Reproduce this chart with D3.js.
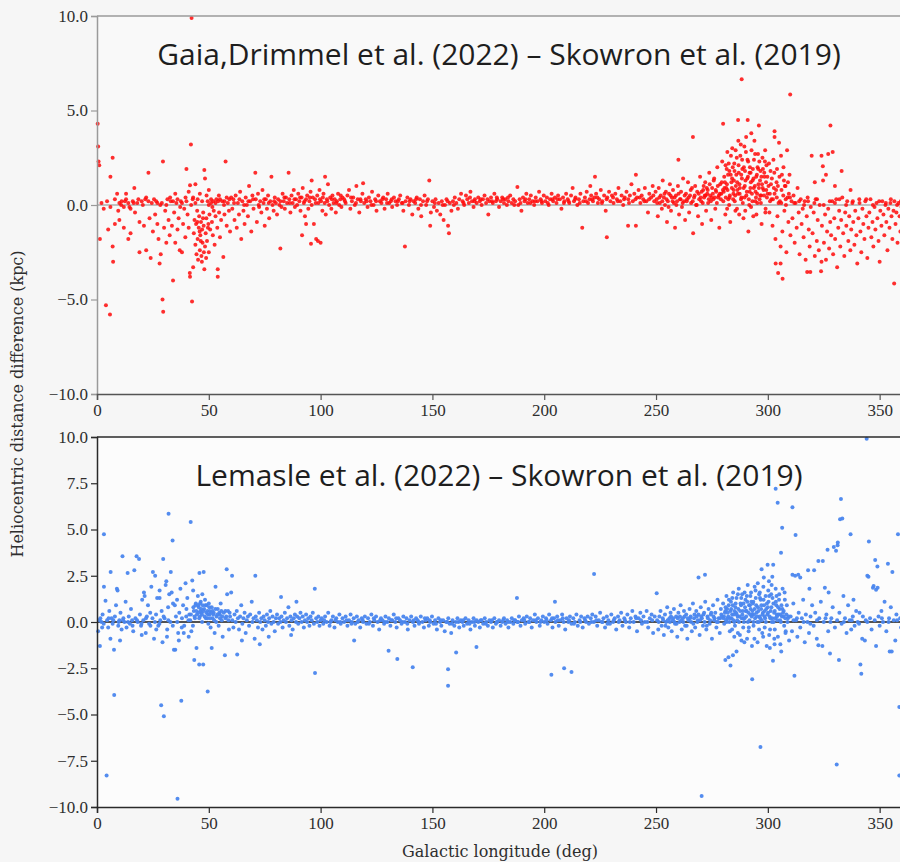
<!DOCTYPE html>
<html>
<head>
<meta charset="utf-8">
<script src="https://cdn.jsdelivr.net/npm/d3@7/dist/d3.min.js"></script>
<style>
  html, body { margin: 0; padding: 0; background: #f6f6f6; }
  svg { display: block; }
  .tick text { font-family: "Liberation Serif", "DejaVu Serif", serif; font-size: 17px; fill: #2e2e2e; }
</style>
</head>
<body>
<svg id="chart" width="900" height="862"></svg>
<script>
// ---------------- DATA ----------------
const titles = ["Gaia,Drimmel et al. (2022) \u2013 Skowron et al. (2019)", "Lemasle et al. (2022) \u2013 Skowron et al. (2019)"];
const xLabel = "Galactic longitude (deg)";
const yLabel = "Heliocentric distance difference (kpc)";
const xTicks = [0, 50, 100, 150, 200, 250, 300, 350];
const yTicksTop = [10, 5, 0, -5, -10];
const yTicksBottom = [10, 7.5, 5, 2.5, 0, -2.5, -5, -7.5, -10];

// Gaia/Drimmel - Skowron : [longitude (deg), difference (kpc)]
const gaia0to60 = [[0.3,4.3],[0.5,3.1],[0.7,2.3],[1,2.1],[1.3,-1.8],[4,-5.3],[5.8,-5.8],[7,2.5],[5,-1.3],[7,-2.2],[7.2,-3.0],[6,1.5],[9,0.6],[2,0.1],[3,-0.2],[4.5,0.2],[6,-0.1],[8,0.3],[9.5,-0.3],[10,0.1],[11,0.2],[12,-0.1],[13,0.3],[14,0.1],[15,-0.2],[16,0.2],[16.7,0.9],[17,-0.4],[18,0.1],[19,-0.9],[19,-2.5],[20,0.2],[21,-1.1],[22,-2.4],[22,0.4],[23,1.7],[23.5,-0.7],[24,-2.8],[24.5,0.1],[25,-1.4],[26,-0.5],[26.5,0.2],[27,-1.0],[27.5,-1.8],[28,-3.1],[28.5,-2.6],[29,0.1],[29.3,-5.0],[29.5,2.3],[29.6,-5.65],[30,-1.2],[30.5,-0.3],[31,-2.0],[31.5,0.3],[32,-0.8],[32.5,-1.6],[33,0.2],[33.5,-1.1],[34,-4.0],[34.5,-0.4],[35,-2.0],[35.5,0.1],[36,-1.3],[36.5,-0.7],[37,-2.4],[37.5,0.2],[38,-2.5],[38.5,-1.0],[39,-0.2],[39.5,-1.7],[40,1.9],[40.5,-0.5],[41,-1.2],[41.5,-3.6],[41.6,-3.8],[41.6,1.05],[42,3.2],[42.3,9.9],[42.5,-5.1],[42.8,0.3],[43,-3.3],[43.3,-1.5],[43.6,-0.8],[44,-2.1],[44.3,-1.0],[44.5,-2.6],[44.8,-0.3],[45,-1.8],[45.2,-2.9],[45.5,-1.2],[45.7,-0.6],[46,-2.4],[46.2,-1.6],[46.5,-0.9],[46.7,-2.7],[47,-1.3],[47.2,-2.0],[47.5,-0.4],[47.7,-1.1],[48,-3.4],[48,1.85],[48.3,1.4],[48.3,-2.2],[48.6,-1.5],[48.9,-0.7],[49.2,-1.9],[49.5,0.2],[49.8,-1.0],[50,-2.5],[50.3,-0.5],[50.6,-1.3],[51,0.1],[51.4,-0.9],[51.8,-1.6],[52.2,-0.3],[52.6,-2.1],[53,-0.6],[53.4,0.3],[53.8,-1.2],[54,-3.4],[54,-3.8],[54.5,0.5],[54.6,-0.4],[55,-1.7],[55.5,-0.8],[56,0.2],[56.5,-2.75],[57,-0.5],[57.5,2.3],[58,-1.1],[58.5,0.1],[59,-0.3],[59.5,-1.4],[60,0.4],
[12.5,0.2],[14.5,-0.1],[18.5,0.3],[20.5,0.0],[23,0.2],[25.5,0.3],[27,0.1],[31,0.0],[34,0.2],[36,0.3],[38,0.1],[40,0.2],[43,0.4],[45,0.3],[47,0.2],[49,0.5],[51,0.3],[53,0.1],[55,0.3],[57,0.2],[58,0.4],[46,0.6],[44,0.1],[50,0.0],[52,0.2],[41,0.7],[44,1.1],[50,0.8],[35,0.6],[13,0.6],[10,-0.8],[15,-1.5],[14,-1.8],[8,-1.0],[12,-1.2],[46.4,-1.9],[47.8,-2.5],[45.9,-1.4],[49.6,-1.2],[44.9,-0.9],[47.4,-0.7],[48.8,-2.8],[46.9,-3.0],
[10.8,0.0],[16.4,0.1],[21.6,0.3],[28.3,0.0],[32.7,0.4],[37.2,-0.1],[39.6,0.4],[42.1,0.0],[51.6,-0.1],[54.2,0.2],[56.8,0.0],[59.2,0.3]];

const gaia60to110 = [[60.5,-0.2],[61,0.3],[61.5,-0.8],[62,0.5],[62.5,-1.2],[63,0.1],[63.5,-0.5],[64,0.7],[64.5,-1.8],[65,0.2],[65.5,-0.3],[66,-1.0],[66.5,0.4],[67,0.0],[67.5,-0.6],[68,1.0],[68.5,0.2],[69,-1.4],[69.5,0.5],[70,-0.2],[70.8,1.7],[71,0.3],[71.5,-0.9],[72,0.6],[72.5,-0.1],[73,0.2],[73.5,-0.4],[74,0.8],[74.5,0.1],[75,-1.1],[75.5,0.3],[76,-0.2],[76.5,0.5],[77,-0.7],[77.5,0.2],[78,1.5],[78.5,0.0],[79,-0.3],[79.5,0.4],[80,0.1],[80.5,-0.5],[81,0.3],[82,-2.3],[82,0.2],[82.5,-0.1],[83,0.6],[83.5,0.2],[84,-0.2],[84.5,0.4],[85,0.1],[85.7,1.7],[86,0.3],[86.5,-0.4],[87,0.5],[87.5,0.1],[88,0.8],[88.5,-0.1],[89,0.3],[89.5,0.0],[90,0.6],[90.5,0.2],[91,-0.3],[91.5,0.4],[91.7,-1.6],[92,0.9],[92.5,0.1],[93,-0.6],[93.5,-1.0],[93.5,0.3],[94,0.5],[94.5,-0.2],[95,0.2],[95.5,0.7],[95.7,-2.05],[96,1.3],[96,0.0],[96.5,0.4],[97,-1.0],[97.5,0.3],[98,-1.8],[98.5,0.5],[98.8,-1.9],[99,0.1],[99.5,0.8],[100,-2.0],[100.2,0.2],[100.8,-0.3],[101.3,0.6],[101.8,0.1],[102,1.5],[102.3,-0.5],[102.8,0.3],[103.3,1.1],[103.8,0.0],[104.3,0.4],[104.8,-0.2],[105.3,0.5],[105.8,0.1],[106.3,0.3],[106.8,-0.4],[107.3,0.2],[107.8,0.6],[108.3,0.0],[108.8,0.3],[109.3,-0.1],[109.8,0.4],
[61.3,0.1],[63.7,0.3],[65.8,0.0],[67.7,0.2],[69.8,0.3],[72.3,0.0],[74.8,0.3],[76.8,0.1],[79.2,0.2],[81.6,0.0],[83.8,0.4],[86.2,0.1],[88.3,0.3],[90.8,0.4],[92.8,0.2],[95.2,0.4],[97.8,0.1],[99.7,0.3],[101,0.4],[103,0.2],[105,0.3],[107,0.1],[109,0.5]];

const gaia110to250 = [[110.5,0.3],[111.2,0.1],[112,0.5],[112.7,0.8],[113.3,-0.2],[114,0.2],[114.6,0.4],[115.3,0.0],[116,1.0],[116.6,0.3],[117.3,-0.4],[118,0.2],[118.7,0.6],[119,1.15],[119.5,0.1],[120.2,0.3],[121,-0.1],[121.6,0.4],[122.3,0.2],[123,0.7],[123.7,0.0],[124.4,0.3],[125,-0.3],[125.8,0.5],[126.5,0.2],[127.2,0.1],[128,0.4],[128.6,-0.2],[129.3,0.3],[130,0.6],[130.7,0.1],[131.4,0.2],[132,-0.1],[132.8,0.4],[133.5,0.2],[134.2,0.0],[135,0.3],[135.6,0.5],[136.3,0.1],[137,-0.3],[137.7,-2.2],[138,0.2],[138.8,0.4],[139.5,0.0],[140.2,0.3],[141,-0.5],[141.6,0.2],[142.3,0.1],[143,0.4],[143.7,-0.2],[144.4,0.3],[145,-0.6],[145.8,0.2],[146.5,0.5],[147.2,0.0],[148,0.3],[148.6,1.3],[149,-1.1],[149.3,-0.4],[150,0.2],[150.7,-0.1],[151.4,0.3],[152,-0.3],[152.8,0.1],[153.5,-0.5],[154.2,0.2],[155,-0.8],[155.6,0.0],[156.3,0.3],[157,-1.1],[157.4,-1.5],[157.8,0.1],[158.5,-0.3],[159.2,0.2],[160,0.4],[160.7,0.1],[161.4,-0.2],[162,0.3],[162.8,0.6],[163.5,0.2],[164.2,0.0],[165,0.5],[165.6,0.3],[166.3,0.1],[167,0.7],[167.7,0.2],[168.4,-0.1],[169,0.3],[169.8,0.1],[170.5,0.4],[171.2,0.2],[172,0.0],[172.6,0.3],[173.3,0.5],[174,0.1],[175,-0.5],[175.5,0.2],[176.2,0.4],[177,0.1],[177.7,0.6],[178.4,0.2],[179,0.3],[179.8,-0.1],[180.5,0.2],[181.2,0.4],[182,0.1],[182.6,0.3],[183.3,0.0],[184,0.2],[184.8,0.5],[185.5,0.1],[186.2,0.3],[187,0.2],[188,0.95],[188.4,0.0],[189,0.3],[189.8,-0.3],[190.5,0.4],[191.2,0.2],[192,0.6],[192.6,0.1],[193.3,0.3],[194,0.5],[194.8,0.2],[195.5,0.0],[196.2,0.4],[197,0.2],[197.7,0.7],[198.4,0.3],[199,0.1],[199.8,0.5],[200.5,0.2],[201.2,0.4],[202,0.0],[202.6,0.3],[203.3,0.6],[204,0.2],[204.8,0.4],[205.5,0.1],[206.2,0.5],[207,0.3],[207.7,-0.2],[208.4,0.4],[209,0.2],[209.8,0.6],[210.5,0.3],[211.2,0.1],[212,0.5],[212.7,0.9],[213.3,0.2],[214,0.4],[214.8,0.0],[215.5,0.3],[216.2,0.6],[217,-1.2],[217.5,0.2],[218.2,0.4],[219,0.7],[219.6,0.1],[220.3,0.3],[220.6,1.0],[221,0.5],[221.8,0.2],[222.5,0.4],[222.7,1.5],[223.2,0.6],[224,0.1],[224.6,0.3],[225.3,0.8],[226,0.2],[226.8,0.5],[227.5,-0.3],[228,-1.7],[228.2,0.4],[229,0.7],[229.6,0.2],[230.3,0.5],[231,0.1],[231.8,0.6],[232.5,0.3],[233.2,0.9],[234,0.2],[234.6,0.5],[235.3,0.0],[236,0.4],[236.8,0.7],[237.5,-1.1],[237.6,0.3],[238.3,0.5],[239,1.1],[239.6,0.2],[240.3,0.6],[241,-1.1],[241,1.6],[241.5,0.4],[242.2,0.8],[243,0.1],[243.6,0.5],[244.3,0.3],[245,0.9],[245.7,0.2],[246.4,-0.4],[247,0.6],[247.8,0.4],[248.5,1.0],[249.2,0.2],[249.8,0.7],
[110.9,0.2],[113.6,0.4],[115.8,0.1],[117.8,0.3],[120.6,0.2],[122.7,0.0],[124.8,0.2],[127.6,0.3],[129.7,0.1],[131.8,0.3],[134.6,0.2],[136.7,0.1],[139.8,0.2],[142.7,0.3],[144.9,0.0],[147.6,0.2],[151.1,0.1],[154.6,0.0],[156.8,0.2],[159.6,0.0],[163.9,0.1],[166.8,0.4],[168.8,0.2],[171.6,0.3],[174.6,0.3],[176.7,0.2],[178.8,0.4],[181.6,0.3],[183.8,0.4],[186.6,0.0],[189.4,0.1],[191.6,0.3],[193.8,0.1],[195.9,0.2],[198.8,0.2],[201.6,0.1],[203.7,0.3],[205.9,0.3],[208.8,0.1],[210.9,0.2],[213.8,0.3],[215.9,0.1],[218.7,0.2],[221.5,0.3],[223.8,0.4],[225.8,0.1],[227.9,0.3],[230.8,0.4],[232.9,0.2],[235.7,0.3],[237.9,0.1],[240.8,0.3],[242.7,0.4],[244.8,0.2],[246.9,0.3],[248.8,0.5]];

const gaia250to300 = [[250.3,0.3],[250.8,-0.6],[251.2,0.9],[251.7,0.1],[252.1,0.5],[252.6,-0.2],[253,1.3],[253.5,0.4],[254,0.0],[254.4,0.7],[254.9,-0.9],[255.3,0.2],[255.8,0.6],[256.2,1.1],[256.7,-0.3],[257.1,0.4],[257.6,0.8],[258,0.1],[258.5,-1.2],[258.9,0.5],[259.4,0.2],[259.8,1.0],[260,2.4],[260.3,-0.5],[260.7,0.3],[261.2,0.7],[261.6,-0.1],[262.1,1.4],[262.5,0.2],[263,-0.8],[263.4,0.6],[263.9,0.3],[264.3,1.2],[264.8,-0.4],[265.2,0.5],[265.7,0.1],[266.1,0.9],[266.5,3.6],[266.6,-1.5],[267,0.4],[267.5,1.0],[267.9,0.0],[268.4,0.7],[268.8,-0.6],[269.3,0.3],[269.7,1.5],[270.2,0.2],[270.6,-1.0],[271.1,0.8],[271.5,0.4],[272,1.2],[272.4,-0.3],[272.9,0.6],[273.3,0.1],[273.8,1.7],[274.2,0.5],[274.7,-0.8],[275.1,0.9],[275.6,0.3],[276,1.4],[276.5,-0.2],[276.9,0.7],[277.4,2.0],[277.8,0.4],[278.3,-1.2],[278.7,1.1],[279.2,0.6],[279.6,2.3],[280,4.3],[280.1,0.2],[280.5,1.5],[281,-0.5],[281.4,0.9],[281.9,2.8],[282.3,0.3],[282.8,1.8],[283.2,-0.9],[283.7,1.2],[284.1,3.0],[284.6,0.6],[285,2.2],[285.5,-0.3],[285.9,1.6],[286.4,0.8],[286.7,4.5],[286.8,3.4],[287.3,1.1],[287.7,2.6],[288.2,0.4],[288.3,6.65],[288.6,1.9],[289.1,-0.7],[289.5,3.1],[290,1.3],[290.4,0.5],[290.9,2.4],[291,4.5],[291.3,-1.4],[291.8,1.7],[292.2,0.9],[292.7,2.9],[293.1,0.2],[293.6,1.4],[294,3.4],[294.5,0.7],[294.9,-0.5],[295.4,2.0],[295.8,1.1],[296,4.2],[296.3,0.3],[296.7,1.8],[297.2,-1.0],[297.6,2.5],[298.1,0.8],[298.5,1.5],[299,-0.2],[299.4,2.1],[299.9,0.6],
[280.3,0.7],[280.8,1.2],[281.2,0.4],[281.6,1.9],[282,0.8],[282.5,2.2],[283,0.5],[283.4,1.6],[283.9,0.9],[284.3,2.0],[284.8,1.3],[285.2,0.2],[285.7,1.0],[286.1,2.5],[286.6,0.6],[287,1.7],[287.5,0.9],[287.9,3.2],[288.4,1.4],[288.8,0.1],[289.3,2.0],[289.7,1.0],[290.2,2.8],[290.6,0.7],[291.1,1.5],[291.5,0.3],[292,2.0],[292.4,1.2],[292.9,0.6],[293.3,1.9],[293.8,2.4],[294.2,1.0],[294.7,0.4],[295.1,1.6],[295.6,2.7],[296,0.9],[296.5,1.3],[296.9,0.1],[297.4,1.1],[297.8,1.9],[298.3,0.5],[298.7,2.3],[299.2,1.2],[299.6,0.4],[284.5,0.3],[286.2,-0.2],[288,0.3],[289.9,-0.3],[291.7,0.0],[293.5,-0.6],[295.3,0.1],[297,0.5],[298.9,-0.4],[282.7,0.0],[281.8,-0.2],[285.4,0.5],[287.2,-0.5],[289.6,0.4],[292.5,-0.1],[294.4,0.2],
[250.5,0.1],[251.5,0.4],[252.8,0.2],[253.8,0.6],[254.7,0.3],[255.6,-0.1],[256.5,0.5],[257.4,0.2],[258.3,0.4],[259.1,0.0],[260.1,0.6],[261,0.3],[261.9,0.1],[262.8,0.5],[263.7,0.2],[264.6,0.4],[265.5,0.8],[266.4,0.2],[267.3,0.5],[268.2,0.0],[269.1,0.6],[270,0.4],[270.9,0.1],[271.8,0.5],[272.7,0.9],[273.6,0.3],[274.5,0.2],[275.4,0.6],[276.3,0.4],[277.2,0.1],[278.1,0.5],[279,0.3],[279.9,0.8],
[280.6,0.9],[281.1,2.1],[281.7,1.1],[282.2,1.6],[282.9,0.4],[283.5,2.6],[284,1.4],[284.7,0.8],[285.1,1.8],[285.6,2.9],[286.3,1.2],[286.9,2.1],[287.4,0.6],[288.1,1.6],[288.5,2.4],[289.2,0.9],[289.8,1.8],[290.3,3.6],[290.8,1.4],[291.2,2.3],[291.9,0.7],[292.3,1.7],[292.6,3.8],[293.2,1.3],[293.7,0.9],[294.3,2.7],[294.8,1.5],[295.2,0.6],[295.7,1.9],[296.2,2.3],[296.6,0.5],[297.1,1.5],[297.7,0.9],[298.4,1.7],[298.8,2.9],[299.3,0.8],[299.8,1.5],[270.4,0.7],[271.3,1.0],[272.2,0.5],[273.1,0.8],[274,1.1],[274.9,0.4],[275.8,1.3],[276.7,0.8],[277.6,1.0],[278.5,0.6],[279.4,1.2]];

const gaia300to360 = [[300.3,1.0],[300.7,-0.4],[301.2,1.8],[301.6,0.3],[302.1,-1.1],[302.5,2.4],[303,3.9],[303,3.6],[303,0.6],[303.4,-1.8],[303.5,-3.1],[303.9,1.2],[304.3,-0.6],[304.6,-3.6],[304.8,0.1],[305,3.3],[305.2,1.5],[305.7,-3.1],[305.7,-2.2],[306.1,0.8],[306.5,-1.4],[306.6,-3.9],[307,2.0],[307.4,-0.3],[307.9,1.0],[308.3,-2.5],[308.8,0.4],[309.2,-0.9],[309.7,1.6],[310,5.85],[310.1,-1.6],[310.6,0.2],[311,-0.7],[311.5,0.5],[312,-2.0],[312.4,0.1],[312.9,-1.2],[313.3,0.9],[313.8,-0.4],[314.2,-2.6],[314.7,0.3],[315.1,-1.0],[315.6,-0.2],[316,-1.7],[316.5,0.2],[316.9,-2.9],[317.4,-0.6],[317.6,-3.55],[317.8,0.4],[318.3,-1.3],[318.7,-2.2],[319,-3.55],[319.2,-0.1],[319.6,2.6],[320,-1.5],[320.5,-0.4],[321,-2.7],[321.4,0.3],[321.9,-1.9],[322.3,-0.8],[322.8,-2.4],[323.2,0.0],[323.8,-3.5],[324,2.6],[324,-3.0],[324.2,-1.1],[324.6,2.05],[324.7,1.3],[325.1,-2.0],[325.6,-0.5],[326,-2.9],[326.5,-1.4],[327,2.7],[327,-0.2],[327.4,-2.3],[327.9,-0.9],[328,4.2],[328.3,-1.6],[328.8,0.2],[329,2.8],[329.2,-2.6],[329.7,-0.7],[330.1,-1.8],[330.6,0.3],[331,-3.3],[331.5,-1.2],[331.9,-0.3],[332.4,-2.2],[332.8,-0.8],[333.3,0.4],[333.7,-1.5],[334.2,-2.7],[334.6,-0.4],[335.1,-1.1],[335.5,0.2],[336,-1.9],[336.4,-0.6],[336.9,-2.4],[337.3,-1.3],[337.8,0.1],[338.2,-0.9],[338.7,-2.1],[339.1,-0.3],[339.6,-1.6],[340,-3.1],[340.5,-0.7],[340.9,0.3],[341.4,-1.4],[341.8,-2.5],[342.3,-0.2],[342.7,-1.0],[343.2,-1.8],[343.6,0.2],[344.1,-0.6],[344.5,-2.8],[345,-1.2],[345.4,-0.4],[345.9,0.3],[346.3,-1.7],[346.8,-0.9],[347.2,-2.2],[347.7,-0.1],[348.1,-1.3],[348.6,0.1],[349,-0.7],[349.5,-1.9],[350,-3.0],[350.3,-0.3],[350.8,-1.1],[351.2,0.2],[351.7,-0.5],[352.1,-1.6],[352.6,0.0],[353,-0.9],[353.5,-2.4],[353.9,-0.2],[354.4,-1.2],[354.8,0.1],[355.3,-0.6],[355.7,-1.8],[356.2,-0.3],[356.5,-4.15],[356.6,0.2],[357.1,-1.0],[357.5,-0.4],[358,-2.0],[358.4,0.1],[358.9,-0.6],[359.3,-1.4],[359.8,-0.1],
[301,0.2],[304,0.4],[306,0.1],[308,0.3],[311.8,0.1],[314,0.2],[316.2,0.0],[318,0.2],[320.8,0.1],[322,0.3],[325,0.0],[327.7,0.2],[330,0.1],[332,0.3],[335,0.0],[338,0.2],[341,0.1],[344,0.3],[347,0.0],[349.8,0.2],[352.8,0.1],[355,0.3],[357.8,0.0],[359.5,0.2],
[300.5,2.2],[301.8,1.4],[302.7,0.9],[304.1,1.9],[305.9,2.6],[307.2,1.3],[308.6,2.9],[309.4,0.6],[321,1.2],[326,1.6],[330,1.0],[333,1.8],[337,0.8],
[300.9,0.6],[301.4,1.1],[302.3,0.3],[302.9,1.7],[303.7,0.8],[304.5,1.0],[305.4,0.2],[306.3,1.6],[306.9,0.5],[307.6,1.0],[308.1,0.0],[309,1.2],[309.9,0.4]];

// Lemasle - Skowron : [longitude (deg), difference (kpc)]
const lem0to60 = [[0.5,-0.5],[1.3,-1.3],[1.5,0.2],[2,0.0],[2.5,0.4],[3.1,4.75],[3.1,1.9],[3.8,1.15],[4.3,-8.3],[4.5,0.1],[5,-0.3],[5.5,0.6],[6.1,2.7],[6.5,0.2],[7,-0.1],[7.6,-1.5],[7.7,-3.95],[8,0.3],[8.5,0.9],[8.9,1.8],[9.2,1.7],[9.5,-0.2],[10,0.1],[10.5,0.5],[11,-0.4],[11.4,3.55],[11.8,0.2],[12.3,0.0],[12.8,1.1],[13.2,-0.3],[13.7,2.65],[14.2,0.3],[14.7,-0.1],[15.2,0.7],[15.7,0.1],[16.2,-0.5],[16.7,2.8],[17.2,0.2],[17.7,3.55],[18.2,0.0],[18.8,3.4],[19.2,0.4],[19.7,-0.2],[20.2,1.2],[20.7,0.1],[21,1.6],[21.3,1.4],[21.8,-0.6],[22.3,0.3],[22.8,0.9],[23.3,-0.1],[23.8,0.5],[24.3,1.9],[24.8,0.2],[25,2.7],[25.5,-0.9],[26,2.5],[26.4,0.4],[26.9,1.3],[27.4,-0.2],[28,1.7],[28,1.3],[28.3,0.1],[28.7,-4.5],[28.9,0.6],[29.3,-1.1],[29.6,3.4],[29.9,-5.1],[30.2,0.2],[30.7,2.0],[31,2.2],[31.4,-0.4],[31.8,0.8],[32,5.85],[32.3,1.5],[32.8,0.0],[33,2.7],[33.4,1.6],[33.8,4.4],[34,1.0],[34.4,-1.5],[34.8,0.9],[35,-1.5],[35.3,0.3],[35.8,1.2],[36,-9.55],[36.3,-0.6],[36.8,0.5],[37.3,1.8],[37.7,-4.25],[38,0.2],[38.5,0.9],[39,-0.2],[39.6,2.1],[40,0.7],[40.4,1.3],[40.9,0.1],[41.3,0.4],[41.9,5.4],[42.2,-0.5],[42.6,2.25],[43,1.7],[43.3,0.6],[43.5,-2.05],[43.8,0.2],[44.2,1.0],[44.5,-1.4],[44.7,0.4],[45.1,1.4],[45.5,0.8],[45.7,-2.3],[45.8,2.65],[46,0.3],[46.4,1.1],[46.8,0.5],[47.1,1.5],[47.5,-2.3],[47.7,2.7],[47.9,0.7],[48.3,1.2],[48.7,0.2],[49,0.9],[49.5,-3.75],[49.6,0.4],[50,1.0],[50.4,0.6],[50.8,-0.3],[51.3,-1.4],[51.3,0.8],[51.7,0.2],[52.2,0.5],[52.6,-0.6],[53,1.9],[53.5,0.3],[54,0.7],[54.4,-0.2],[54.9,0.4],[55.3,1.0],[55.8,0.1],[56.2,-0.8],[56.7,0.5],[57.2,-1.8],[57.5,0.2],[58,2.85],[58.2,1.5],[58.6,0.6],[59,-0.4],[59.5,0.3],[60,1.6],
[1,0.1],[3,-0.1],[5.2,0.2],[7.3,0.1],[9.7,0.0],[11.6,0.1],[13.9,0.0],[15.9,-0.2],[17.9,0.1],[19.9,-0.1],[21.9,0.2],[23.9,-0.2],[25.9,0.0],[27.9,-0.1],[29.8,0.3],[31.9,0.1],[33.9,-0.2],[35.9,0.0],[37.9,-0.3],[39.9,0.3],[41.7,0.1],[43.6,0.3],[45.3,0.5],[46.6,0.7],[48.1,0.3],[49.3,0.6],[50.6,0.2],[52,0.4],[53.3,0.0],[54.7,0.5],[56,0.3],[57.4,0.6],[58.8,0.1],[44,0.9],[46.2,0.6],[47.3,0.9],[48.9,0.5],[50.2,0.8],[45.7,0.2],[47,0.0],[49.8,-0.1],[51,0.5],[52.9,0.7],[55,0.2],[42.9,-0.2],[41,-0.8],[38.8,-0.6],[36.6,-1.0],[31.3,-0.8],[26.5,-0.4],[20,-0.7],[10.3,-1.0],[6,-0.9],[2.3,-0.3],
[42,0.4],[43.1,0.8],[44.4,0.6],[45.2,0.9],[46.1,1.0],[46.9,0.4],[47.6,0.6],[48.5,0.9],[49.4,0.2],[50.3,0.4],[51.6,0.6],[52.4,0.1],[53.8,0.4],[55.6,0.6],[57.8,0.3],[59.3,0.5]];

const lem60to100 = [[60.4,2.5],[60.5,0.1],[61,-0.3],[61.5,0.4],[62,0.0],[62.5,0.6],[62.7,-1.75],[63,0.2],[63.5,-0.4],[64,0.3],[64.5,0.9],[65,-0.1],[65.5,0.2],[66,0.5],[66.5,-0.6],[67,0.1],[67.5,0.3],[68,-0.2],[68.5,0.4],[69.2,1.1],[69.5,0.0],[70,0.2],[70.5,-0.9],[70.8,2.5],[71,0.3],[71.5,0.1],[72,-0.3],[72.5,0.5],[73,0.0],[73.5,0.2],[74,-0.4],[74.5,0.3],[75,0.1],[75.5,-0.2],[76,0.4],[76.5,0.0],[77,0.2],[77.5,0.6],[78,-0.1],[78.5,0.3],[79,0.0],[79.5,-0.5],[80,0.2],[80.5,0.4],[81,-0.1],[81.5,0.2],[82,0.0],[82.3,1.35],[82.5,0.3],[83,-0.3],[83.5,0.1],[84,0.5],[84.5,0.0],[85,0.2],[85.6,0.8],[86,-0.2],[86.5,0.3],[87,0.1],[87.5,-0.4],[88,0.2],[88.5,0.4],[89,0.0],[89.2,1.1],[89.5,0.3],[90,-0.1],[90.5,0.2],[91,0.5],[91.5,0.0],[92,0.3],[92.5,-0.3],[93,0.1],[93.5,0.4],[94,0.0],[94.5,0.2],[95,-0.2],[95.5,0.3],[96,0.1],[96.5,0.5],[97,-0.1],[97.4,1.8],[97.5,-2.75],[98,0.2],[98.5,0.0],[99,0.3],[99.5,-0.2],[100,0.1],[64.8,-1.0],[72.8,-1.2],[76.8,-0.8],[86.8,-0.7]];

const lem100to250 = [[100.5,0.2],[101.2,-0.1],[102,0.3],[102.7,0.0],[103.4,0.5],[104,-0.2],[104.8,0.1],[105.5,0.3],[106.2,-0.3],[107,0.2],[107.7,0.0],[108.4,0.4],[109,-0.1],[109.8,0.2],[110.5,0.0],[111.2,0.3],[112,-0.2],[112.7,0.1],[113.4,0.4],[114,0.0],[114.8,0.2],[115,-1.0],[115.5,-0.1],[116.2,0.3],[117,0.1],[117.7,-0.3],[118.4,0.2],[119,0.0],[119.8,0.3],[120.5,-0.1],[121.2,0.2],[122,0.0],[122.7,0.4],[123.4,-0.2],[124,0.1],[124.8,0.3],[125.5,0.0],[126.2,-0.4],[127,0.2],[127.7,0.1],[128.4,-0.1],[129,0.3],[129.8,0.0],[130.4,-1.55],[130.5,0.2],[131.2,-0.2],[132,0.1],[132.7,0.4],[133.4,0.0],[134,-0.3],[134.3,-2.0],[134.8,0.2],[135.5,0.1],[136.2,-0.1],[137,0.3],[137.7,0.0],[138.4,0.2],[139,-0.4],[139.8,0.1],[140.5,0.3],[141.2,-2.45],[141.3,0.0],[142,-0.2],[142.7,0.2],[143.4,0.1],[144,-0.1],[144.8,0.3],[145.5,0.0],[146.2,-0.3],[147,0.1],[147.7,0.2],[148.4,-0.2],[149,0.0],[149.8,0.3],[150.5,-0.1],[151.2,0.1],[152,-0.4],[152.7,0.2],[153.4,0.0],[154,-0.2],[154.8,0.1],[155.5,-0.5],[156.2,0.0],[157,-2.55],[157,-3.45],[157.1,0.2],[157.7,-0.1],[158.4,-0.6],[159,0.1],[159.8,-0.2],[160.5,0.0],[160.6,-1.65],[161.2,0.2],[162,-0.3],[162.7,0.1],[163.4,0.0],[164,-0.2],[164.8,0.2],[165.5,-0.1],[166.2,0.1],[167,-0.4],[167.7,0.0],[168.4,0.2],[169,-0.2],[169.7,-1.35],[169.8,0.1],[170.5,0.0],[171.2,-0.3],[172,0.1],[172.7,-0.1],[173.4,0.2],[174,0.0],[174.8,-0.2],[175.5,0.1],[176.2,0.0],[177,-0.3],[177.7,0.2],[178.4,-0.1],[179,0.0],[179.8,0.1],[180.5,-0.2],[181.2,0.0],[182,0.2],[182.7,-0.1],[183.4,0.1],[184,-0.3],[184.8,0.0],[185.5,0.2],[186.2,-0.1],[187,0.1],[187.8,1.3],[188,0.0],[188.7,0.3],[189.4,-0.2],[190,0.1],[190.8,0.2],[191.5,-0.1],[192.2,0.3],[193,0.0],[193.7,0.2],[194.4,-0.3],[195,0.1],[195.8,0.4],[196.5,0.0],[197.2,0.2],[198,-0.2],[198.7,0.1],[199.4,0.3],[200,0.0],[200.8,0.2],[201.5,-0.1],[202.2,0.4],[203,0.1],[203.2,-2.85],[203.7,-0.3],[204.4,0.2],[204.8,1.1],[205,0.0],[205.8,0.3],[206.5,-0.2],[207.2,0.1],[208,0.4],[208.7,0.0],[208.9,-2.5],[209.4,-0.4],[210,0.2],[210.8,0.0],[211.5,0.3],[212.2,-0.1],[212.2,-2.7],[213,0.2],[213.7,0.0],[214.4,0.4],[215,-0.2],[215.8,0.1],[216.5,0.3],[217.2,-0.3],[218,0.2],[218.7,0.0],[219.4,0.3],[220,-0.1],[220.8,0.2],[221.5,0.4],[222.2,0.0],[222.3,2.6],[223,0.3],[223.7,-0.2],[224.4,0.1],[225,0.5],[225.8,0.0],[226.5,0.2],[227.2,-0.3],[228,0.3],[228.7,0.1],[229.4,-0.1],[230,0.4],[230.8,0.0],[231.5,0.2],[232.2,-0.4],[233,0.3],[233.7,0.1],[234.4,0.5],[235,-0.2],[235.8,0.2],[236.5,0.0],[237.2,0.4],[238,-0.3],[238.7,0.2],[239.4,0.6],[240,0.0],[240.8,0.3],[241.5,-0.5],[242.2,0.2],[243,0.5],[243.7,-0.1],[244.4,0.3],[245,0.0],[245.8,0.6],[246.5,-0.3],[247.2,0.2],[248,0.4],[248.7,-0.6],[249.4,0.3],
[101.6,0.1],[104.4,0.0],[106.6,0.1],[108.8,0.0],[111.6,0.1],[113.8,-0.1],[116.6,0.0],[118.8,0.1],[121.6,-0.1],[123.8,0.2],[126.6,0.1],[128.8,0.0],[131.6,0.1],[133.8,0.2],[136.6,0.0],[138.8,-0.1],[141.6,0.1],[143.8,0.0],[146.6,0.2],[148.8,0.1],[151.6,-0.1],[153.8,0.1],[156.6,0.0],[158.8,-0.1],[161.6,0.0],[163.8,0.1],[166.6,-0.1],[168.8,0.0],[171.6,0.1],[173.8,-0.1],[176.6,0.1],[178.8,0.0],[181.6,0.1],[183.8,0.0],[186.6,0.1],[188.3,0.0],[191.1,0.1],[193.4,0.0],[196.1,0.1],[198.3,0.0],[201.1,0.1],[203.5,0.2],[206.1,0.1],[208.3,0.2],[211.1,0.1],[213.3,-0.1],[216.1,0.0],[218.3,0.1],[221.1,0.0],[223.3,0.1],[226.1,0.0],[228.3,-0.1],[231.1,0.1],[233.3,0.0],[236.1,0.1],[238.3,0.0],[241.1,0.2],[243.3,0.1],[246.1,0.0],[248.3,0.1]];

const lem250to310 = [[250.3,1.55],[250.5,0.1],[251,-0.4],[251.5,0.3],[252,0.6],[252.5,-0.2],[253,0.2],[253.5,-0.7],[254,0.4],[254.5,0.0],[255,0.8],[255.5,-0.3],[256,0.2],[256.5,0.5],[257,-0.5],[257.5,0.1],[258,0.7],[258.5,-0.1],[259,0.3],[259.5,-0.8],[260,0.5],[260.5,0.0],[261,0.9],[261.5,-0.4],[262,0.2],[262.5,0.6],[263,-0.2],[263.5,0.4],[264,-0.9],[264.5,0.1],[265,0.7],[265.5,0.3],[266,-0.5],[266.5,1.0],[267,0.2],[267.5,-0.3],[268,0.6],[268.5,0.0],[269,2.4],[269,0.4],[269.5,-0.7],[270,0.8],[270.4,-9.4],[270.5,0.2],[271,-0.2],[271.5,0.5],[271.9,2.55],[272,1.1],[272.5,-0.4],[273,0.3],[273.5,0.7],[274,-0.1],[274.5,0.4],[275,-0.9],[275.5,0.9],[276,0.1],[276.5,0.5],[277,-0.3],[277.5,1.2],[278,0.2],[278.5,-0.6],[279,0.7],[279.5,0.3],[280,1.0],[280.5,-0.1],[281,-2.05],[281,0.6],[281.5,1.4],[282,0.2],[282.4,-1.9],[282.5,0.9],[283,-0.5],[283.3,-2.35],[283.5,1.1],[284,0.4],[284.4,-1.8],[284.5,1.6],[285,0.0],[285.5,0.8],[286,-1.6],[286,1.3],[286.5,0.3],[287,1.8],[287.5,-0.7],[288,0.9],[288.5,1.5],[289,0.2],[289.5,-1.1],[290,1.2],[290.5,0.6],[291,2.0],[291.5,-0.3],[292,0.9],[292.5,1.6],[293,-3.1],[293,0.4],[293.5,1.1],[294,-0.9],[294.5,1.7],[295,0.5],[295.5,2.1],[296,0.0],[296.5,1.3],[296.7,-6.75],[297,0.7],[297.2,2.85],[297.5,-0.6],[298,1.9],[298.5,0.3],[299,1.4],[299.5,-1.3],[299.9,3.1],[300,0.8],[300.5,2.2],[301,-0.4],[301.5,1.5],[302,0.2],[302,2.45],[302.3,-2.1],[302.4,3.1],[302.5,1.0],[303,-1.2],[303.5,7.2],[303.5,1.8],[304,0.4],[304.4,6.45],[304.5,-0.8],[305,1.2],[305.5,0.1],[305.9,3.75],[306,-1.6],[306.4,5.1],[306.5,0.7],[307,0.3],[307.5,1.6],[308,-0.5],[308.5,0.9],[309,0.2],[309.5,-1.0],
[255.2,0.1],[256.7,0.3],[258.2,0.0],[259.7,0.2],[261.2,0.1],[262.7,0.3],[264.2,0.2],[265.7,0.0],[267.2,0.4],[268.7,0.1],[270.2,0.3],[271.7,0.0],[273.2,0.2],[274.7,0.5],[276.2,0.2],[277.7,0.0],[279.2,0.4],[280.2,0.2],[280.8,0.5],[281.3,0.1],[281.8,0.7],[282.3,0.3],[282.8,0.0],[283.3,0.6],[283.8,0.2],[284.3,0.9],[284.8,0.4],[285.3,-0.2],[285.8,0.5],[286.3,0.1],[286.8,0.7],[287.3,0.3],[287.8,1.0],[288.3,0.2],[288.8,0.6],[289.3,0.0],[289.8,0.8],[290.3,0.3],[290.8,1.1],[291.3,0.5],[291.8,0.1],[292.3,0.7],[292.8,0.3],[293.3,1.0],[293.8,0.4],[294.3,0.2],[294.8,0.9],[295.3,0.0],[295.8,0.6],[296.3,0.3],[296.8,1.2],[297.3,0.1],[297.8,0.5],[298.3,0.9],[298.8,0.2],[299.3,0.7],[299.8,0.4],[300.3,1.1],[300.8,0.3],[301.3,0.6],[301.8,0.0],[302.8,0.5],[303.3,0.2],[303.8,0.9],[304.3,0.1],[304.8,0.4],[305.3,0.7],[305.8,0.0],[306.3,0.3],[306.8,0.5],[307.3,-0.2],[307.8,0.2],[308.3,0.4],[308.8,0.0],[309.3,0.3],[284,-0.4],[286.6,-0.6],[289,-0.3],[291.4,-0.5],[293.6,-0.2],[296.1,-0.4],[298.6,-0.3],[300.6,-0.7],[303.1,-0.4],[289.6,1.6],[292.2,1.4],[294.1,1.9],[296.4,1.6],[298.2,2.4],[300.2,1.7],[301.7,2.0],[303.9,1.4],
[280.4,0.3],[281.1,0.8],[281.6,0.0],[282.1,0.5],[282.6,1.2],[283.1,0.2],[283.6,0.7],[284.1,1.3],[284.6,0.1],[285.1,0.6],[285.6,1.0],[286.1,0.4],[286.6,1.5],[287.1,0.0],[287.6,0.6],[288.1,1.3],[288.6,0.4],[289.1,1.0],[289.6,0.2],[290.1,0.6],[290.6,1.4],[291.1,0.0],[291.6,0.9],[292.1,0.4],[292.6,1.1],[293.1,0.6],[293.6,0.0],[294.1,0.7],[294.6,1.3],[295.1,0.3],[295.6,0.8],[296.1,1.5],[296.6,0.2],[297.1,0.9],[297.6,0.4],[298.1,1.2],[298.6,0.6],[299.1,0.0],[299.6,1.0],[300.1,0.5],[300.6,1.4],[301.1,0.2],[301.6,0.8],[302.1,1.3],[302.6,0.0],[303.1,0.6],[303.6,1.1],[304.1,0.3],[304.6,0.8],[305.1,1.5],[305.6,0.4],[306.1,0.9],[306.6,1.8],[307.1,0.6],[307.6,1.2],[285,-0.8],[288.2,-1.0],[290.7,-0.9],[292.9,-1.3],[295.4,-1.1],[297.9,-0.8],[300.9,-1.4],[302.9,-0.9],[305.6,-1.2],[307.9,-0.6],
[251.2,0.0],[253.2,0.1],[254.2,-0.2],[256.2,0.0],[257.7,0.2],[259.2,-0.1],[260.7,0.3],[262.2,0.0],[263.7,-0.2],[265.2,0.2],[266.7,-0.1],[268.2,0.3],[269.7,0.1],[271.2,0.4],[272.7,-0.2],[274.2,0.1],[275.7,0.3],[277.2,0.0],[278.7,0.2]];

const lem310to360 = [[310.2,0.3],[310.8,-0.5],[311,6.2],[311,2.55],[311.4,1.0],[311.9,-2.9],[312.2,2.5],[312.4,4.7],[312.6,0.1],[313.2,-0.8],[313.6,2.55],[313.8,0.5],[314.5,2.4],[314.5,-0.3],[315.2,0.2],[315.8,1.2],[316.5,-1.1],[317,0.4],[317.7,0.0],[318,2.8],[318.4,-0.6],[318.6,1.8],[319.1,0.3],[319.8,0.9],[320.5,-0.2],[320.7,2.8],[321.2,0.5],[321.9,-0.9],[322.6,-1.25],[322.6,3.3],[323,0.2],[323.7,1.1],[324.4,-1.3],[324.6,3.3],[325,0.0],[325.5,1.85],[326.2,0.4],[326.7,3.9],[327,-0.5],[327.2,1.6],[327.8,-1.7],[328.4,0.2],[329,0.8],[329.5,4.05],[330,-0.3],[330.5,3.85],[330.8,-7.7],[331.2,4.15],[331.3,4.3],[331.8,-2.05],[332,0.5],[332.3,5.55],[332.7,6.65],[333,-0.1],[333.3,5.6],[333.8,1.4],[334.5,0.2],[335.2,-0.6],[335.9,0.9],[336.6,0.1],[337,4.75],[337.3,-0.4],[338,0.3],[338.3,1.2],[338.8,-0.2],[339.5,0.6],[340.2,0.0],[341,0.5],[341.4,-2.3],[341.8,-2.8],[342.2,-0.9],[342.5,0.3],[343.4,-1.0],[343.8,0.1],[344.2,9.9],[344.5,2.5],[345,2.45],[345.2,4.35],[345.7,0.2],[346.4,-0.4],[347,1.85],[347.3,1.95],[348,3.35],[348.4,-1.3],[348.4,1.75],[349,3.0],[349.1,1.85],[349.5,0.3],[350,-0.2],[350.8,0.6],[351.5,0.0],[352.2,1.1],[353,-0.5],[353.7,3.15],[354.2,0.2],[354.5,-1.6],[355,0.8],[355.4,-1.6],[355.7,2.7],[356.3,0.1],[357,-1.0],[357.5,0.4],[358.2,4.75],[358.8,-4.6],[358.8,-8.3],[359.2,0.2],[359.6,-0.3],
[311.5,0.1],[313,0.2],[316,0.0],[319,-0.1],[322,0.1],[325.8,0.2],[328,0.0],[331,0.1],[334,0.0],[337.5,0.1],[340.8,-0.1],[344.5,0.0],[347.8,0.1],[351,0.2],[354,0.0],[357.8,0.1]];

const gaiaPoints = [].concat(gaia0to60, gaia60to110, gaia110to250, gaia250to300, gaia300to360);
const lemaslePoints = [].concat(lem0to60, lem60to100, lem100to250, lem250to310, lem310to360);

// ---------------- DRAWING ----------------
const svg = d3.select("#chart");
const W = 900, H = 862;
const left = 97, right = 902;

const x = d3.scaleLinear().domain([0, 360]).range([left, right]);

const panels = [
  { points: gaiaPoints, title: titles[0], top: 16, bottom: 394, yTicks: yTicksTop,
    color: "#ff0a0a", opacity: 0.85, spine: "#9a9a9a", xspine: "#555", zero: "#8a8a8a", zeroW: 1.2, bg: "#f9f9f9", titleY: 65 },
  { points: lemaslePoints, title: titles[1], top: 437, bottom: 807, yTicks: yTicksBottom,
    color: "#4a86ee", opacity: 0.95, spine: "#2a2a2a", xspine: "#2a2a2a", zero: "#1a1a1a", zeroW: 1.5, bg: "#fcfcfc", titleY: 486 }
];

const defs = svg.append("defs");

panels.forEach((p, i) => {
  const y = d3.scaleLinear().domain([-10, 10]).range([p.bottom, p.top]);
  const g = svg.append("g");

  g.append("rect").attr("x", left).attr("y", p.top).attr("width", W - left).attr("height", p.bottom - p.top)
    .attr("fill", p.bg);

  defs.append("clipPath").attr("id", "clip" + i)
    .append("rect").attr("x", left - 3).attr("y", p.top - 3).attr("width", W - left + 6).attr("height", p.bottom - p.top + 6);

  // zero line
  g.append("line").attr("x1", left).attr("x2", W).attr("y1", y(0)).attr("y2", y(0))
    .attr("stroke", p.zero).attr("stroke-width", p.zeroW);

  // points
  g.append("g").attr("clip-path", "url(#clip" + i + ")")
    .selectAll("circle").data(p.points).join("circle")
    .attr("cx", d => x(d[0])).attr("cy", d => y(d[1])).attr("r", 2)
    .attr("fill", p.color).attr("fill-opacity", p.opacity);

  // title
  g.append("text").attr("x", 499).attr("y", p.titleY).attr("text-anchor", "middle")
    .attr("font-family", "'Open Sans', 'Noto Sans', sans-serif").attr("font-size", 30)
    .attr("fill", "#1e1e1e").text(p.title);

  // top spine
  g.append("line").attr("x1", left).attr("x2", W).attr("y1", p.top).attr("y2", p.top)
    .attr("stroke", p.spine).attr("stroke-width", 1.5);

  // y axis
  const yAxis = d3.axisLeft(y).tickValues(p.yTicks).tickSize(6).tickPadding(3)
    .tickFormat(d => d3.format(".1f")(d).replace("-", "\u2212"));
  const ya = g.append("g").attr("transform", `translate(${left},0)`).call(yAxis);
  ya.select(".domain").attr("stroke", p.spine).attr("stroke-width", 1.5);
  ya.selectAll(".tick line").attr("stroke", p.spine).attr("stroke-width", 1.2);

  // x axis
  const xAxis = d3.axisBottom(x).tickValues(xTicks).tickSize(6).tickPadding(4).tickFormat(d3.format("d"));
  const xa = g.append("g").attr("transform", `translate(0,${p.bottom})`).call(xAxis);
  xa.select(".domain").attr("stroke", p.xspine).attr("stroke-width", 1.5);
  xa.selectAll(".tick line").attr("stroke", p.xspine).attr("stroke-width", 1.2);
});

// axis labels
svg.append("text").attr("x", 500).attr("y", 857).attr("text-anchor", "middle")
  .attr("font-family", "'DejaVu Serif', 'Liberation Serif', serif").attr("font-size", 16).attr("fill", "#2e2e2e")
  .text(xLabel);
svg.append("text").attr("transform", "translate(23,404) rotate(-90)").attr("text-anchor", "middle")
  .attr("font-family", "'DejaVu Serif', 'Liberation Serif', serif").attr("font-size", 16).attr("fill", "#2e2e2e")
  .text(yLabel);
</script>
</body>
</html>
